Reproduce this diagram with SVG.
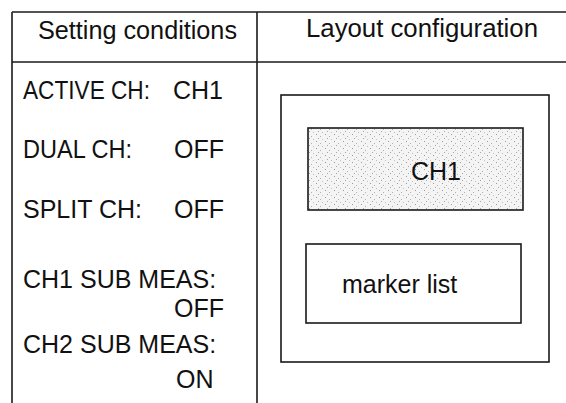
<svg xmlns="http://www.w3.org/2000/svg" width="566" height="403" viewBox="0 0 566 403">
<style>
  .ln{stroke:#1a1a1a;stroke-width:1.6;fill:none}
  .bx{stroke:#1a1a1a;stroke-width:1.6}
  text{font-family:"Liberation Sans",Arial,sans-serif;font-size:25px;fill:#111}
</style>
<defs>
  <pattern id="stip" width="9" height="7" patternUnits="userSpaceOnUse">
    <rect width="9" height="7" fill="#f4f4f4"/>
    <rect x="1" y="1" width="1" height="1" fill="#9a9a9a"/>
    <rect x="5" y="3" width="1" height="1" fill="#b0b0b0"/>
    <rect x="3" y="5" width="1" height="1" fill="#a5a5a5"/>
    <rect x="7" y="6" width="1" height="1" fill="#c0c0c0"/>
  </pattern>
</defs>
<rect width="566" height="403" fill="#fff"/>
<g id="table">
  <line class="ln" x1="12" y1="12" x2="566" y2="12"/>
  <line class="ln" x1="12" y1="62" x2="566" y2="62"/>
  <line class="ln" x1="12" y1="12" x2="12" y2="403"/>
  <line class="ln" x1="257" y1="12" x2="257" y2="403"/>
  <text x="38" y="39" textLength="199" lengthAdjust="spacingAndGlyphs">Setting conditions</text>
  <text x="306" y="37" textLength="232" lengthAdjust="spacingAndGlyphs">Layout configuration</text>
</g>
<g id="settings">
  <text x="23" y="99" textLength="127" lengthAdjust="spacingAndGlyphs">ACTIVE CH:</text><text x="173" y="99">CH1</text>
  <text x="23" y="158" textLength="109" lengthAdjust="spacingAndGlyphs">DUAL CH:</text><text x="174" y="158">OFF</text>
  <text x="23" y="218">SPLIT CH:</text><text x="174" y="218">OFF</text>
  <text x="23" y="288">CH1 SUB MEAS:</text><text x="174" y="317">OFF</text>
  <text x="23" y="353">CH2 SUB MEAS:</text><text x="176" y="388">ON</text>
</g>
<g id="layout">
  <rect class="bx" x="281" y="95" width="268" height="267" fill="none"/>
</g>
<g id="ch1">
  <rect class="bx" x="308" y="128" width="215" height="82" fill="url(#stip)"/>
  <text x="411" y="180">CH1</text>
</g>
<g id="marker-list">
  <rect class="bx" x="306" y="244" width="215" height="79" fill="#fff"/>
  <text x="342" y="293">marker list</text>
</g>
<g id="connectors"/>
</svg>
